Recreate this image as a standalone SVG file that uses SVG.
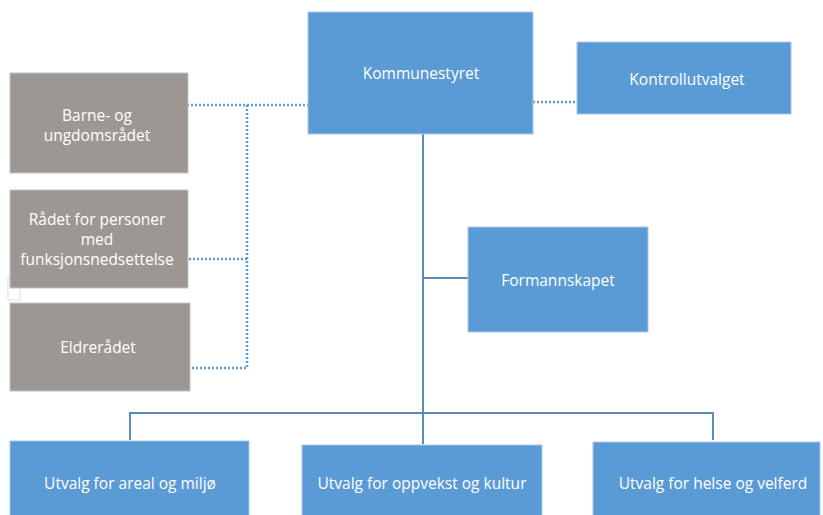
<svg xmlns="http://www.w3.org/2000/svg" width="823" height="515" viewBox="0 0 823 515">
<style>
.blue{fill:#5B9BD5;stroke:#a9c8e8;stroke-width:1}
.gray{fill:#9D9793;stroke:#c8c4c1;stroke-width:1}
.t{font-family:"Open Sans","Liberation Sans",sans-serif;font-size:15.5px;fill:#ffffff;text-anchor:middle;dominant-baseline:central}
.solid{stroke:#5A8AB8;stroke-width:2;fill:none}
.dot{stroke:#5B9BD5;stroke-width:2.5;stroke-dasharray:2 2;fill:none}
</style>
<rect width="823" height="515" fill="#ffffff"/>
<rect x="8" y="277" width="12" height="23" fill="#ffffff" stroke="#dddddd" stroke-width="1"/>
<g id="connectors">
<path class="solid" d="M423 134 V413 M423 278 H468 M130 440 V413 H713 V440 M423 413 V444"/>
<path class="dot" d="M179 105 H308 M247 105 V368 M181 259 H247 M184 368 H247 M533 102 H577"/>
</g>
<g id="kommunestyret"><rect class="blue" x="308" y="12" width="225" height="122"/><text class="t" x="421" y="73">Kommunestyret</text></g>
<g id="kontrollutvalget"><rect class="blue" x="577" y="42" width="214" height="72"/><text class="t" x="687" y="79">Kontrollutvalget</text></g>
<g id="barne"><rect class="gray" x="10" y="73" width="178" height="100"/><text class="t" x="97" y="115">Barne- og</text><text class="t" x="97" y="135">ungdomsrådet</text></g>
<g id="radet"><rect class="gray" x="10" y="190" width="178" height="98"/><text class="t" x="97" y="219">Rådet for personer</text><text class="t" x="97" y="239">med</text><text class="t" x="97" y="259">funksjonsnedsettelse</text></g>
<g id="eldreradet"><rect class="gray" x="10" y="303" width="180" height="88"/><text class="t" x="98" y="347">Eldrerådet</text></g>
<g id="formannskapet"><rect class="blue" x="468" y="227" width="180" height="105"/><text class="t" x="558" y="280">Formannskapet</text></g>
<g id="areal"><rect class="blue" x="10" y="441" width="239" height="80"/><text class="t" x="130" y="483">Utvalg for areal og miljø</text></g>
<g id="oppvekst"><rect class="blue" x="302" y="445" width="240" height="76"/><text class="t" x="422" y="483">Utvalg for oppvekst og kultur</text></g>
<g id="helse"><rect class="blue" x="593" y="442" width="227" height="79"/><text class="t" x="713" y="483">Utvalg for helse og velferd</text></g>
</svg>
